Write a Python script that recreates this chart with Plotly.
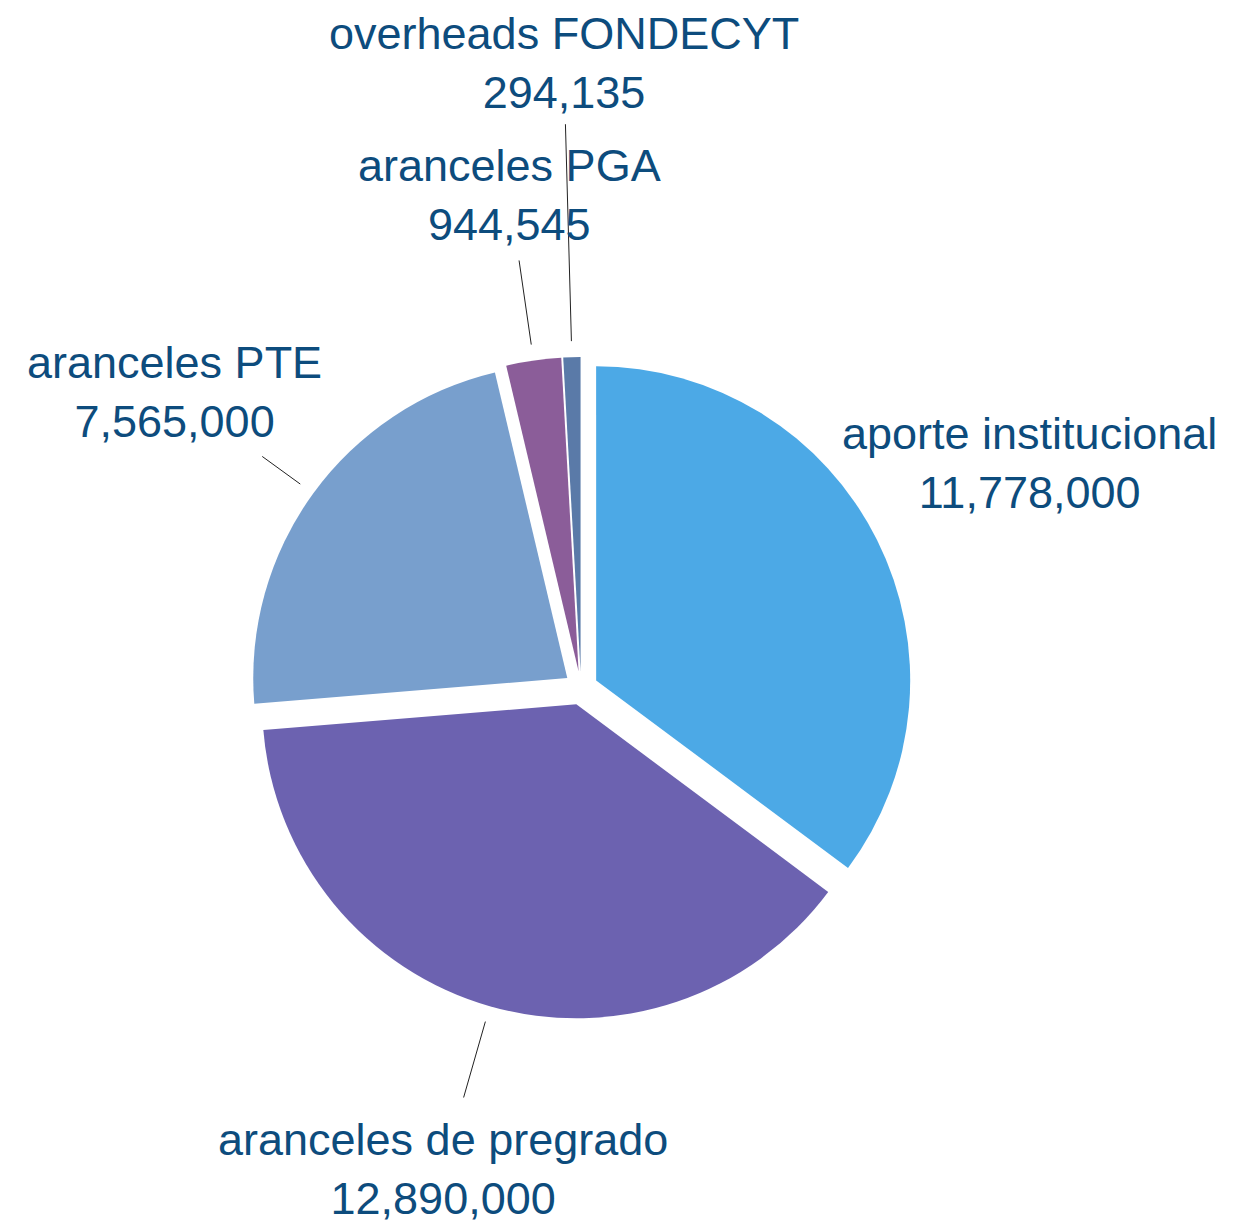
import numpy as np
import plotly.graph_objects as go

# ─────────────────────────────────────────────
# Data

labels = ["aporte institucional", "aranceles de pregrado", "aranceles PTE",
          "aranceles PGA", "overheads FONDECYT"]
values = [11778000, 12890000, 7565000, 944545, 294135]
colors = ["#4CA9E6", "#6C62B0", "#789FCD", "#8B5D99", "#5A7AA8"]

# ─────────────────────────────────────────────
# Layout constants (pixels)

W, H = 1234, 1223
CX, CY = 573, 680          # pie centre
PULL = 0.054
R_OUT = 331                # radius incl. pull (half of domain box)
TEXT_R = [502, 500, 503, 498, 625]     # label centre distance
LINE_R = [None, 426, 394, 432, 564]    # leader line end distance (None = no line)
LINE_R0 = 347
TEXT_COLOR = "#0D4C7D"
FONT = "Liberation Sans, Arial, Helvetica, sans-serif"


def to_paper(r, theta):
    px = CX + r * np.sin(theta)
    py = CY - r * np.cos(theta)
    return px / W, 1 - py / H


fig = go.Figure(go.Pie(
    labels=labels, values=values, sort=False, direction="clockwise", rotation=0,
    pull=[PULL] * len(values), textinfo="none", hoverinfo="label+value",
    marker=dict(colors=colors, line=dict(width=0)),
    domain=dict(x=[(CX - R_OUT) / W, (CX + R_OUT) / W],
                y=[1 - (CY + R_OUT) / H, 1 - (CY - R_OUT) / H]),
    showlegend=False,
))

# mid angles from the values
total = sum(values)
cum = np.cumsum(values)
mids = [2 * np.pi * (c - v / 2) / total for c, v in zip(cum, values)]

for lab, val, th, tr, lr in zip(labels, values, mids, TEXT_R, LINE_R):
    tx, ty = to_paper(tr, th)
    fig.add_annotation(x=tx, y=ty, xref="paper", yref="paper",
                       text=f"{lab}<br>{val:,}", showarrow=False,
                       xanchor="center", yanchor="middle", align="center",
                       font=dict(family=FONT, size=45, color=TEXT_COLOR))
    if lr is not None:
        x0, y0 = to_paper(LINE_R0, th)
        x1, y1 = to_paper(lr, th)
        fig.add_shape(type="line", xref="paper", yref="paper",
                      x0=x0, y0=y0, x1=x1, y1=y1,
                      line=dict(color="#222222", width=1))

fig.update_layout(width=W, height=H, margin=dict(l=0, r=0, t=0, b=0),
                  paper_bgcolor="white", plot_bgcolor="white")

fig.write_html("out.html")
